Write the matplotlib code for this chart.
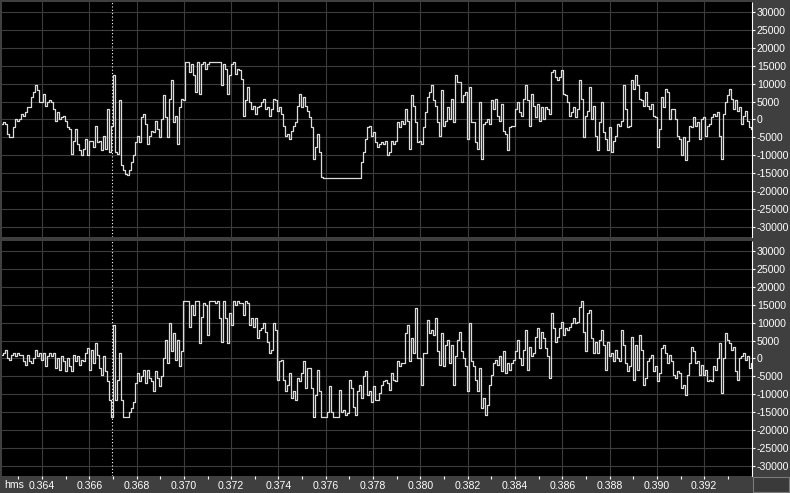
import numpy as np
import matplotlib
matplotlib.use("Agg")
import matplotlib.pyplot as plt
from matplotlib.patches import Rectangle

t_start = 0.36231
t_end = 0.39402
cursor_t = 0.36696

left_channel = [
    -1200, -700, -1200, -4000, -4900, -4900, -2100, 200, -300, 200,
    1600, 1100, 2000, 3400, 3400, 6200, 7600, 9500, 8100, 4800,
    4800, 7200, 3900, 4800, 5300, 4800, 3000, -300, 2000, 200,
    700, 1100, -300, -2100, -2600, -9600, -5900, -2600, -6800, -8600,
    -10000, -8200, -5400, -10000, -5900, -5900, -7700, -1700, -6300, -5900,
    -8600, -4500, -8200, 3000, -9100, -1700, 12300, -9100, -9600, 5300,
    -12800, -14200, -15200, -15600, -14200, -11900, -10000, -6300, -4500, -6300,
    700, 1600, -1200, -6800, -4500, -3100, -3500, -300, -2600, -4900,
    200, 6700, 700, -4900, 5800, 10900, -700, 1100, -6800, 3400,
    5800, 5300, 16000, 16000, 13200, 15500, 12300, 7600, 16000, 7200,
    15500, 16000, 14100, 15500, 16000, 16000, 16000, 16000, 16000, 16000,
    9500, 15500, 14100, 7200, 12300, 15500, 16000, 12700, 14100, 13700,
    11300, 1100, 5300, 9000, 4800,
    # 0.3728 - 0.3833
    3000, 3900, 1600, 3400, 3900, 4800, 5800, 3000, 3400, 1100,
    3000, 5800, 5300, 2500, 3400, 1600, -1700, -4500, -4000, -5400,
    -3100, -1700, -700, 3900, 7200, 3400, 6200, 3900, 2500, 700,
    -2100, -11000, -7700, -4000, -9100, -16100, -16300, -16300, -16300, -16300,
    -16300, -16300, -16300, -16300, -16300, -16300, -16300, -16300, -16300, -16300,
    -16300, -16300, -16300, -16300, -16300, -11900, -9100, -5400, -2100, -1700,
    -4500, -3500, -6300, -7700, -6800, -6300, -6800, -5900, -10000, -9100,
    -5900, -6800, -5900, -700, -2100, -300, -1200, 3000, -300, -8200,
    6700, 3900, -700, -6300, -5900, -6800, -2100, 2000, 6200, 7600,
    9500, 5300, 3900, -700, -4500, 8100, -1700, -300, 3400, 200,
    5800, -700, 12300, 10400, 10400, 4800, 6700, 7600, -5400, 9000,
    -700, -700, -6300, -8200, 4800, -11000, -1200, -700, 200, -1200,
    5300, 3000, 5800, 1100, -300,
    # 0.3834 - 0.3940
    4400, -3100, -4000, -8600, -2100, -1700, -1700, 3000, 4800, 2000,
    1100, 5800, 9500, 5300, -1700, 7200, 3900, 700, 4400, -300,
    3400, 200, 3400, 3000, 1600, 13200, 13700, 11800, 10900, 11800,
    13700, 7200, 6700, 4800, 1100, 2000, 3400, 700, 3000, 10900,
    5800, -4900, 1100, 2500, 9000, 200, 3900, -4500, -8600, -700,
    4800, -3500, -5400, -8600, -2100, -9100, -5900, -4500, -1200, -1700,
    -300, 9500, 3000, -2100, -1700, 10900, 8600, 12300, 9500, 5800,
    5300, 3900, 7600, 3900, 3000, 4400, 1100, 700, -7700, -2600,
    6200, 3400, 8600, 7600, 200, 3000, 3000, 200, -4500, -5400,
    -10000, -4900, -11400, -5900, -1700, -2100, 700, -1700, -700, -5400,
    200, 700, -4500, -1700, -1200, 700, 1600, 1100, 2000, -4500,
    -11000, 1600, 4800, 6700, 8600, 5800, 3000, 5300, 2500, 3400,
    -1200, 1100, 2500, -300, -2100, -2600,
]

right_channel = [
    1000, 1500, 2400, 100, -400, 1000, 1500, 600, 1500, 1000,
    1000, -800, -1800, 1000, -800, -1300, 100, 2400, 600, 1500,
    -400, 1500, -2200, 600, 1500, 600, 1500, -2700, 100, -3200,
    600, -800, -3600, 100, -2200, -3600, 1000, -800, 600, -1800,
    -400, -800, 1500, 2900, -3200, 2400, -1300, 4300, 1000, -2700,
    -4600, 600, -3600, -6400, -11500, -16200, 9400, -11500, -6000, 1500,
    -11500, -16200, -16200, -16200, -14800, -13900, -12000, -6900, -4100, -6400,
    -5000, -3200, -6900, -3200, -5500, -6400, -9200, -3600, -5500, -7800,
    -5000, 100, 5200, -1300, 9900, 2000, 7100, -400, 5200, -2200,
    2000, 15900, 15900, 15900, 8900, 15000, 12200, 15900, 15900, 4300,
    11700, 15400, 15000, 6600, 15900, 15900, 15900, 15400, 15900, 11300,
    4700, 15900, 11300, 4300, 12600, 9400, 15900, 15000, 15900, 15400,
    15400, 12200, 15900, 15400, 9400,
    # 0.3728 - 0.3833
    11300, 8900, 11300, 5700, 8000, 8500, 9900, 7500, 4700, 1500,
    2400, 9900, 8000, -6000, -800, -400, -6000, -9200, -7300, -4100,
    -11100, -9200, -11500, -5500, -6400, -4100, -800, -8300, -2700, -2700,
    -8300, -16200, -10100, -3200, -9200, -16200, -16200, -16200, -14800, -7800,
    -14800, -16200, -16200, -16200, -8700, -14800, -14300, -15700, -15300, -6000,
    -8300, -13400, -15700, -9200, -7300, -11100, -5000, -3600, -10100, -9200,
    -12000, -7800, -11500, -11500, -9700, -7300, -6400, -6000, -6900, -8700,
    -4100, -6000, -6400, -800, -2200, -1300, -1300, 7100, 9400, -800,
    5700, 1500, 14000, 100, 100, -7300, 1500, 1500, 10800, 7100,
    8000, 6600, 11300, 2000, -1800, 7100, -2200, 3800, 5200, -1300,
    3800, -7300, 600, 5200, 7500, 2000, 100, -2200, -9200, 9900,
    -800, -2200, -6000, -9200, -2700, -13900, -11100, -15700, -12900, -7300,
    -4600, -1300, -400, -1800, 600,
    # 0.3834 - 0.3940
    -3600, 2000, -4100, -1300, -3200, -1300, -400, 2000, 5200, 100,
    -1800, 2400, 8000, -3200, 3300, 600, 1500, 6100, 8500, 2900,
    7500, 5700, 2900, 600, -5500, 12600, 8500, 4700, 6100, 8500,
    10300, 6600, 8500, 8000, 8900, 9900, 11300, 9900, 10300, 14500,
    15900, 7500, 2000, 12600, 13600, 5700, 1500, 4700, 1500, 5200,
    8000, 3800, -3200, 4700, 600, 1500, -800, 2400, 100, -800,
    8000, 3800, -1300, -3600, -2200, 6100, -6000, 3800, -3200, 6600,
    2400, -7300, -5500, -800, 100, 1000, -3600, -2200, -6400, -4100,
    2900, 3800, 1500, -1300, 1000, -800, -4600, -5500, -3600, -4100,
    -8300, -7300, -10100, -4600, -1300, 3300, 2000, -1300, -800, -4600,
    -1800, -4600, -3200, -6400, -6000, -6400, -2200, -3200, 100, 4300,
    -9700, 100, 7100, 5200, 4300, 2400, 3300, -3600, -6000, 100,
    600, 1500, -400, 600, -2700, -1300,
]

x_ticks = [0.364, 0.366, 0.368, 0.370, 0.372, 0.374, 0.376, 0.378,
           0.380, 0.382, 0.384, 0.386, 0.388, 0.390, 0.392]
x_labels = ["%.3f" % v for v in x_ticks]
x_minor = [0.363, 0.365, 0.367, 0.369, 0.371, 0.373, 0.375, 0.377,
           0.379, 0.381, 0.383, 0.385, 0.387, 0.389, 0.391, 0.393]
y_ticks = [30000, 25000, 20000, 15000, 10000, 5000, 0,
           -5000, -10000, -15000, -20000, -25000, -30000]
y_labels = [str(v) for v in y_ticks]

bg_gray = "#3f3f3f"
grid_gray = "#3c3c3c"
wave_color = "#dcdcdc"

plt.rcParams["font.family"] = ["Liberation Sans", "DejaVu Sans"]
plt.rcParams["font.size"] = 7.6

W, H = 790, 493
fig = plt.figure(figsize=(W / 100, H / 100), dpi=100, facecolor=bg_gray)


def px_axes(x0, y0, x1, y1):
    # rectangulo en pixeles (origen arriba a la izquierda)
    return fig.add_axes([x0 / W, 1 - y1 / H, (x1 - x0) / W, (y1 - y0) / H])


def draw_channel(ax, samples, show_x):
    t = np.linspace(t_start, t_end, len(samples))
    ax.set_facecolor("#000000")
    for v in y_ticks:
        ax.axhline(v, color=grid_gray, lw=0.8, zorder=1)
    for v in x_ticks:
        ax.axvline(v, color=grid_gray, lw=0.8, zorder=1)
    ax.plot(t, samples, color=wave_color, lw=0.9, drawstyle="steps-mid", zorder=3)
    ax.axvline(cursor_t, color="white", lw=0.8, ls=(0, (1, 2)), zorder=4)

    ax.set_xlim(t_start, t_end)
    ax.set_ylim(-32768, 32767)

    # escala vertical a la derecha
    ax.yaxis.tick_right()
    ax.set_yticks(y_ticks)
    ax.set_yticklabels(y_labels, color="white")
    ax.tick_params(axis="y", length=2.5, width=0.8, color="white", pad=1.0)

    ax.set_xticks(x_ticks)
    ax.set_xticks(x_minor, minor=True)
    if show_x:
        ax.set_xticklabels(x_labels, color="white")
        ax.tick_params(axis="x", which="both", length=1.8, width=0.8,
                       color="white", pad=1.5)
    else:
        ax.tick_params(axis="x", which="both", length=0, labelbottom=False)

    for side in ["top", "left", "bottom"]:
        ax.spines[side].set_visible(False)
    ax.spines["right"].set_color("white")
    ax.spines["right"].set_linestyle((0, (1, 1)))
    ax.spines["right"].set_linewidth(0.8)


ax_top = px_axes(2, 2, 752, 237)
ax_bot = px_axes(2, 241, 752, 476)
draw_channel(ax_top, left_channel, False)
draw_channel(ax_bot, right_channel, True)

fig.text(4 / W, 1 - 484.5 / H, "hms", color="white", va="center", ha="left")

# caja de la esquina inferior derecha
fig.patches.append(Rectangle((753 / W, 1 - 492 / H), 36 / W, 15 / H,
                             transform=fig.transFigure, facecolor="#3a3a3a",
                             edgecolor="#7a7a7a", lw=0.8))

fig.savefig("out.png", dpi=100, facecolor=bg_gray)
